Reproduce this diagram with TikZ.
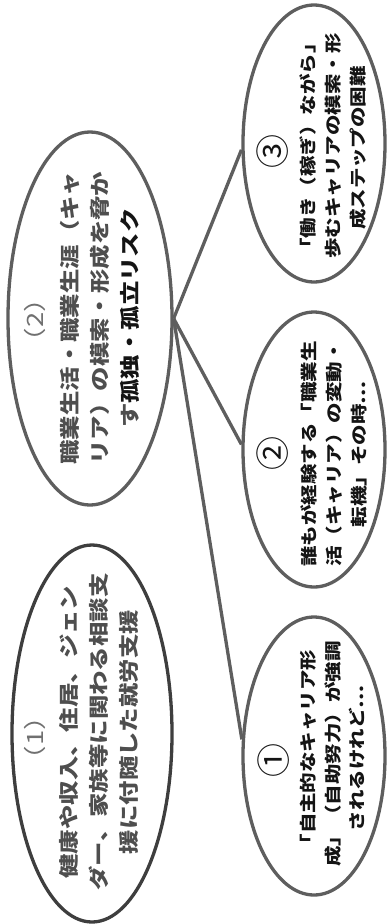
\documentclass[tikz,border=0pt]{standalone}
\usepackage{fontspec}
\usetikzlibrary{shapes.geometric}
\newfontfamily\jp[FakeStretch=1.22]{Noto Sans CJK JP}
\newfontfamily\jpc{Noto Sans CJK JP}
\definecolor{edgegray}{HTML}{5E5E5E}
\definecolor{edgedark}{HTML}{3E3E3E}
\definecolor{txtgray}{HTML}{4E4E4E}
\definecolor{labgray}{HTML}{707070}
\definecolor{txtblack}{HTML}{141414}
\tikzset{
  oval/.style={ellipse, draw=edgegray, line width=3.3pt, inner sep=0pt},
  bigline/.style={rotate=90, inner sep=0pt, anchor=center, text=txtgray,
    font=\jp\bfseries\fontsize{20}{24}\selectfont},
  biglab/.style={rotate=90, inner sep=0pt, anchor=center, text=labgray,
    font=\jp\fontsize{22.5}{26}\selectfont},
  smline/.style={rotate=90, inner sep=0pt, anchor=center, text=txtblack,
    font=\jp\bfseries\fontsize{16.8}{20}\selectfont},
  circnum/.style={rotate=90, inner sep=0pt, anchor=center, text=txtblack,
    font=\jpc\fontsize{34}{36}\selectfont},
  conn/.style={draw=edgegray, line width=3.3pt},
}
\begin{document}
\begin{tikzpicture}[x=1pt, y=-1pt]
\useasboundingbox (0,0) rectangle (389,924);
% ellipses
\node[oval, draw=edgedark, minimum width=160pt, minimum height=377pt] (e1) at (92,733.5) {};
\node[oval, minimum width=164pt, minimum height=373pt] (e2) at (90,318.5) {};
\node[oval, minimum width=142pt, minimum height=277pt] (c3) at (314,143.5) {};
\node[oval, minimum width=142pt, minimum height=275pt] (c2) at (314,449.5) {};
\node[oval, minimum width=142pt, minimum height=278pt] (c1) at (314,756) {};
% connectors
\draw[conn] (e2.east) -- (c3.185);
\draw[conn] (e2.east) -- (c2.176);
\draw[conn] (e2.east) -- (c1.167);
% (1)
\node[biglab] (t1a) at (35,738) {（1）};
\node[bigline] (t1b) at (69,732) {健康や収入、住居、ジェン};
\node[bigline] (t1c) at (99,732) {ダー、家族等に関わる相談支};
\node[bigline] (t1d) at (129,732) {援に付随した就労支援};
% (2)
\node[biglab] (t2a) at (35,320) {（2）};
\node[bigline] (t2b) at (70,318) {職業生活・職業生涯（キャ};
\node[bigline] (t2c) at (100,318) {リア）の模索・形成を脅か};
\node[bigline] (t2d) at (130,318) {す{\color{txtblack}孤独・孤立リスク}};
% circle 3
\node[circnum] (n3a) at (273,151) {③};
\node[smline] (n3b) at (308,146) {「働き（稼ぎ）ながら」};
\node[smline] (n3c) at (333,146) {歩むキャリアの模索・形};
\node[smline] (n3d) at (358,148) {成ステップの困難};
% circle 2
\node[circnum] (n2a) at (273,453) {②};
\node[smline] (n2b) at (309,454) {誰もが経験する「職業生};
\node[smline] (n2c) at (334,454) {活（キャリア）の変動・};
\node[smline] (n2d) at (359,454) {転機」その時…};
% circle 1
\node[circnum] (n1a) at (274,760) {①};
\node[smline] (n1b) at (308,752) {「自主的なキャリア形};
\node[smline] (n1c) at (333,754) {成」（自助努力）が強調};
\node[smline] (n1d) at (357,758) {されるけれど…};
\end{tikzpicture}
\end{document}
